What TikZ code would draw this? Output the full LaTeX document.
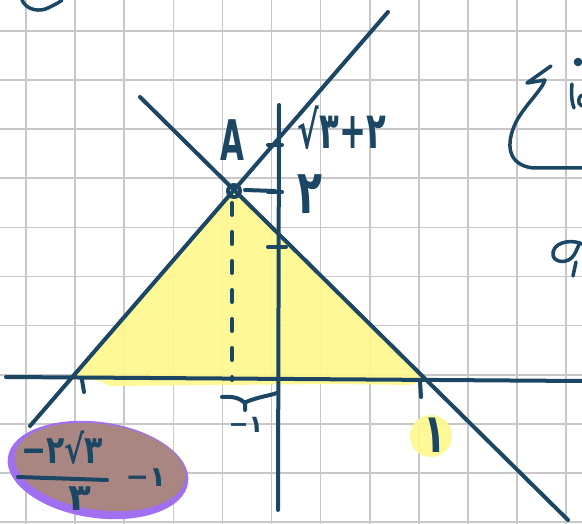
\documentclass[tikz,border=0pt]{standalone}
\usepackage{fontspec}
\newfontfamily\fa{DejaVu Sans}
\definecolor{ink}{RGB}{27,70,100}
\definecolor{gridgray}{RGB}{200,200,200}
\definecolor{hlyellow}{RGB}{255,248,140}
\definecolor{hlbrown}{RGB}{170,134,130}
\definecolor{hlpurple}{RGB}{160,112,240}
\tikzset{
  gridline/.style={draw=gridgray, line width=1.6pt},
  ink/.style={draw=ink, line width=4pt, line cap=round, line join=round},
  lbl/.style={text=ink, inner sep=0pt, font=\fa\bfseries\fontsize{34}{36}\selectfont},
}
\begin{document}
\begin{tikzpicture}[x=1pt,y=-1pt]
\useasboundingbox (0,0) rectangle (582,524);
\fill[white] (0,0) rectangle (582,524);
% grid
\foreach \i in {0,...,11} {\draw[gridline] ({26+49.1*\i},0) -- ({26+49.1*\i},524);}
\foreach \j in {0,...,10} {\draw[gridline] (0,{31+49.1*\j}) -- (582,{31+49.1*\j});}
% highlights
\fill[hlyellow, opacity=0.9] (73,378) -- (234,190) -- (424,378) -- (412,385) -- (330,384) -- (110,386) -- (100,381) -- cycle;
\fill[hlyellow, opacity=0.9] (431,436) circle (21);
\fill[hlpurple, rotate around={-8:(98,470)}] (98,470) ellipse (91 and 48);
\fill[hlbrown, rotate around={-8:(100,467)}] (100,467) ellipse (86 and 43);
% coordinates
\coordinate (A) at (234,191);
\coordinate (L1s) at (30,426);
\coordinate (L1e) at (388,12);
\coordinate (L2s) at (140,97);
\coordinate (L2e) at (568,520);
\coordinate (Xs) at (6,377);
\coordinate (Xe) at (582,381);
\coordinate (Ys) at (279,105);
\coordinate (Ye) at (278,510);
% axes and lines
\draw[ink] (Xs) -- (Xe);
\draw[ink] (Ys) -- (Ye);
\draw[ink] (L1s) -- (L1e);
\draw[ink] (L2s) -- (L2e);
% point A
\draw[ink] (A) circle (6);
\draw[ink] (245,190) -- (275,191);
\draw[ink, dash pattern=on 12pt off 17pt] (232,203) -- (232,380);
% ticks
\draw[ink] (268,145) -- (282,145);
\draw[ink] (268,192) -- (282,192);
\draw[ink] (268,247) -- (286,247);
\draw[ink] (82,380) -- (84,392);
\draw[ink] (420,381) -- (421,397);
% brace under dashed line
\draw[ink] (222,397) .. controls (232,396) and (240,398) .. (245,403) -- (245,410);
\draw[ink] (246,402) .. controls (258,397) and (268,396) .. (277,393);
% fraction bar
\draw[ink] (18,477) -- (107,480);
% labels
\node[lbl, font=\fa\bfseries\fontsize{56}{58}\selectfont] (lA) at (232,140) {\scalebox{0.55}[1]{A}};
\node[lbl] (lyint) at (342,128) {\scalebox{0.95}[1.5]{√۳+۲}};
\node[lbl] (ltwo) at (310,194) {\scalebox{1.2}[1.8]{۲}};
\node[lbl, font=\fa\bfseries\fontsize{24}{26}\selectfont] (lmone) at (246,425) {−۱};
\node[lbl] (lone) at (435,435) {\scalebox{1.1}[1.6]{۱}};
\node[lbl, font=\fa\bfseries\fontsize{30}{32}\selectfont] (lnum) at (62,448) {\scalebox{1}[1.3]{−۲√۳}};
\node[lbl] (lden) at (80,499) {\scalebox{1.1}[1.1]{۳}};
\node[lbl, font=\fa\bfseries\fontsize{28}{30}\selectfont] (lmone2) at (146,478) {−۱};
% cut-off handwriting fragments at the borders
\draw[ink, line width=3.5pt] (22,0) .. controls (26,10) and (40,13) .. (50,7) .. controls (56,4) and (60,2) .. (62,0);
\draw[ink, line width=3.5pt] (551,66) -- (527,83) -- (545,80) .. controls (542,90) and (525,105) .. (516,122) .. controls (505,145) and (508,165) .. (533,168) -- (582,168);
\fill[ink] (578,62) circle (2.2);
\draw[ink, line width=3.5pt] (572,84) .. controls (571,95) and (572,103) .. (574,108);
\draw[ink, line width=3.5pt] (582,95) .. controls (578,97) and (577,104) .. (582,106);
\draw[ink, line width=3.5pt] (582,244) .. controls (575,240) and (556,240) .. (553,252) .. controls (551,263) and (568,265) .. (574,255) .. controls (577,250) and (578,246) .. (580,243);
\draw[ink, line width=3.5pt] (576,262) -- (573,276);
\end{tikzpicture}
\end{document}
